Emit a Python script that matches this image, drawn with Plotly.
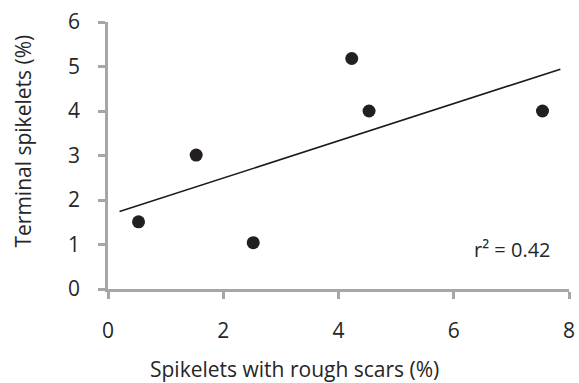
import plotly.graph_objects as go

# Data
rough_scars = [0.53, 1.53, 2.52, 4.23, 4.53, 7.54]
terminal = [1.51, 3.01, 1.04, 5.18, 4.0, 4.0]
trend_x = [0.2, 7.85]
trend_y = [1.74, 4.94]
x_ticks = [0, 2, 4, 6, 8]
y_ticks = [0, 1, 2, 3, 4, 5, 6]
r2_label = "r² = 0.42"
x_title = "Spikelets with rough scars (%)"
y_title = "Terminal spikelets (%)"

FONT = "Open Sans"
AXIS = "#a6a6a6"
TXT = "#262626"

fig = go.Figure()
fig.add_trace(go.Scatter(x=trend_x, y=trend_y, mode="lines",
                         line=dict(color="#1a1a1a", width=1.6), showlegend=False))
fig.add_trace(go.Scatter(x=rough_scars, y=terminal, mode="markers",
                         marker=dict(color="#231f20", size=13), showlegend=False))

fig.add_annotation(x=7.72, y=0.88, xref="x", yref="y", text=r2_label, showarrow=False,
                   xanchor="right", yanchor="middle",
                   font=dict(family=FONT, size=20, color=TXT))
fig.add_annotation(x=0.4056, y=-0.30, xref="paper", yref="paper", text=x_title,
                   showarrow=False, xanchor="center", yanchor="middle",
                   font=dict(family=FONT, size=21, color=TXT))
fig.add_annotation(x=-0.185, y=0.555, xref="paper", yref="paper", text=y_title,
                   showarrow=False, xanchor="center", yanchor="middle", textangle=-90,
                   font=dict(family=FONT, size=21, color=TXT))

fig.update_xaxes(range=[0, 8], tickvals=x_ticks, showgrid=False, zeroline=False,
                 showline=True, linecolor=AXIS, linewidth=2.5, automargin=False,
                 ticks="outside", ticklen=7, tickwidth=2.5, tickcolor=AXIS,
                 ticklabelstandoff=14,
                 tickfont=dict(family=FONT, size=21, color=TXT))
fig.update_yaxes(range=[0, 6], tickvals=y_ticks, showgrid=False, zeroline=False,
                 showline=True, linecolor=AXIS, linewidth=2.5, automargin=False,
                 ticks="outside", ticklen=7, tickwidth=2.5, tickcolor=AXIS,
                 ticklabelstandoff=14,
                 tickfont=dict(family=FONT, size=21, color=TXT))

fig.update_layout(width=579, height=383, margin=dict(l=108, r=10, t=22, b=94),
                  plot_bgcolor="white", paper_bgcolor="white")

fig.write_html("out.html")
